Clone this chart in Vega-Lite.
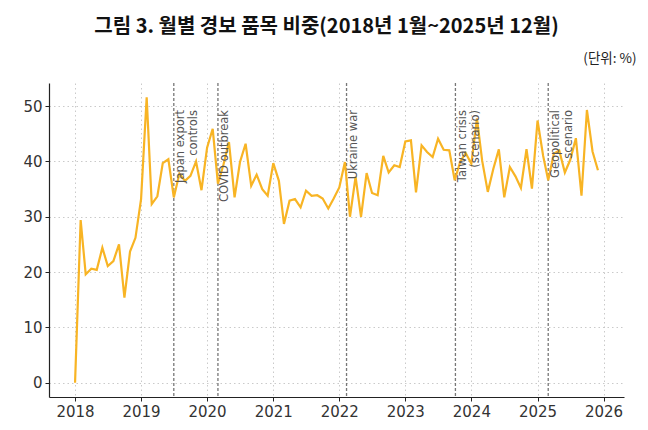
{
  "$schema": "https://vega.github.io/schema/vega-lite/v6.json",
  "autosize": "none",
  "padding": {"left": 49, "top": 83, "right": 24, "bottom": 33},
  "width": 575,
  "height": 314,
  "background": "white",
  "title": {
    "text": "그림 3. 월별 경보 품목 비중(2018년 1월~2025년 12월)",
    "font": "Noto Sans CJK KR",
    "fontSize": 20,
    "fontWeight": "bold",
    "color": "#111",
    "anchor": "middle",
    "frame": "group",
    "baseline": "bottom",
    "dx": -10,
    "offset": -6
  },
  "datasets": {
    "share": [
      {"month": "2018-01-01", "share": 0},
      {"month": "2018-02-01", "share": 29.4},
      {"month": "2018-03-01", "share": 19.6},
      {"month": "2018-04-01", "share": 20.6},
      {"month": "2018-05-01", "share": 20.4},
      {"month": "2018-06-01", "share": 24.4},
      {"month": "2018-07-01", "share": 21.1},
      {"month": "2018-08-01", "share": 22.0},
      {"month": "2018-09-01", "share": 25.0},
      {"month": "2018-10-01", "share": 15.4},
      {"month": "2018-11-01", "share": 23.7},
      {"month": "2018-12-01", "share": 26.2},
      {"month": "2019-01-01", "share": 33.2},
      {"month": "2019-02-01", "share": 51.6},
      {"month": "2019-03-01", "share": 32.3},
      {"month": "2019-04-01", "share": 33.7},
      {"month": "2019-05-01", "share": 39.7},
      {"month": "2019-06-01", "share": 40.4},
      {"month": "2019-07-01", "share": 33.5},
      {"month": "2019-08-01", "share": 37.8},
      {"month": "2019-09-01", "share": 36.5},
      {"month": "2019-10-01", "share": 37.4},
      {"month": "2019-11-01", "share": 40.0},
      {"month": "2019-12-01", "share": 34.8},
      {"month": "2020-01-01", "share": 42.5},
      {"month": "2020-02-01", "share": 45.9},
      {"month": "2020-03-01", "share": 36.0},
      {"month": "2020-04-01", "share": 39.5},
      {"month": "2020-05-01", "share": 43.5},
      {"month": "2020-06-01", "share": 33.5},
      {"month": "2020-07-01", "share": 39.9},
      {"month": "2020-08-01", "share": 43.2},
      {"month": "2020-09-01", "share": 35.6},
      {"month": "2020-10-01", "share": 37.6},
      {"month": "2020-11-01", "share": 35.0},
      {"month": "2020-12-01", "share": 33.8},
      {"month": "2021-01-01", "share": 39.7},
      {"month": "2021-02-01", "share": 36.5},
      {"month": "2021-03-01", "share": 28.7},
      {"month": "2021-04-01", "share": 32.9},
      {"month": "2021-05-01", "share": 33.2},
      {"month": "2021-06-01", "share": 31.7},
      {"month": "2021-07-01", "share": 34.7},
      {"month": "2021-08-01", "share": 33.8},
      {"month": "2021-09-01", "share": 33.9},
      {"month": "2021-10-01", "share": 33.3},
      {"month": "2021-11-01", "share": 31.5},
      {"month": "2021-12-01", "share": 33.3},
      {"month": "2022-01-01", "share": 35.3},
      {"month": "2022-02-01", "share": 39.9},
      {"month": "2022-03-01", "share": 30.0},
      {"month": "2022-04-01", "share": 37.2},
      {"month": "2022-05-01", "share": 30.0},
      {"month": "2022-06-01", "share": 37.9},
      {"month": "2022-07-01", "share": 34.3},
      {"month": "2022-08-01", "share": 33.9},
      {"month": "2022-09-01", "share": 41.0},
      {"month": "2022-10-01", "share": 38.0},
      {"month": "2022-11-01", "share": 39.3},
      {"month": "2022-12-01", "share": 39.0},
      {"month": "2023-01-01", "share": 43.6},
      {"month": "2023-02-01", "share": 43.8},
      {"month": "2023-03-01", "share": 34.4},
      {"month": "2023-04-01", "share": 42.9},
      {"month": "2023-05-01", "share": 41.7},
      {"month": "2023-06-01", "share": 40.8},
      {"month": "2023-07-01", "share": 44.1},
      {"month": "2023-08-01", "share": 42.1},
      {"month": "2023-09-01", "share": 42.0},
      {"month": "2023-10-01", "share": 36.6},
      {"month": "2023-11-01", "share": 40.0},
      {"month": "2023-12-01", "share": 41.5},
      {"month": "2024-01-01", "share": 39.6},
      {"month": "2024-02-01", "share": 47.8},
      {"month": "2024-03-01", "share": 40.1},
      {"month": "2024-04-01", "share": 34.5},
      {"month": "2024-05-01", "share": 38.6},
      {"month": "2024-06-01", "share": 42.2},
      {"month": "2024-07-01", "share": 33.5},
      {"month": "2024-08-01", "share": 39.0},
      {"month": "2024-09-01", "share": 37.3},
      {"month": "2024-10-01", "share": 35.2},
      {"month": "2024-11-01", "share": 42.2},
      {"month": "2024-12-01", "share": 35.1},
      {"month": "2025-01-01", "share": 47.4},
      {"month": "2025-02-01", "share": 41.0},
      {"month": "2025-03-01", "share": 36.6},
      {"month": "2025-04-01", "share": 41.4},
      {"month": "2025-05-01", "share": 42.0},
      {"month": "2025-06-01", "share": 38.0},
      {"month": "2025-07-01", "share": 40.3},
      {"month": "2025-08-01", "share": 44.2},
      {"month": "2025-09-01", "share": 33.8},
      {"month": "2025-10-01", "share": 49.3},
      {"month": "2025-11-01", "share": 41.8},
      {"month": "2025-12-01", "share": 38.4}
    ],
    "events": [
      {"date": "2019-07-01", "label": "Japan export\ncontrols"},
      {"date": "2020-03-01", "label": "COVID outbreak"},
      {"date": "2022-02-10", "label": "Ukraine war"},
      {"date": "2023-10-05", "label": "Taiwan crisis\n(scenario)"},
      {"date": "2025-03-01", "label": "Geopolitical\nscenario"}
    ]
  },
  "layer": [
    {
      "data": {"name": "events"},
      "mark": {"type": "rule", "color": "#777", "strokeWidth": 1.3, "strokeDash": [3, 2]},
      "encoding": {
        "x": {"field": "date", "type": "temporal"}
      }
    },
    {
      "data": {"name": "share"},
      "mark": {"type": "line", "color": "#F8B424", "strokeWidth": 2.2},
      "encoding": {
        "x": {
          "field": "month",
          "type": "temporal",
          "title": null,
          "scale": {
            "type": "utc",
            "domain": [
              {"year": 2017, "month": 8, "date": 10, "utc": true},
              {"year": 2026, "month": 4, "date": 24, "utc": true}
            ]
          },
          "axis": {"format": "%Y", "tickCount": {"interval": "year", "step": 1}}
        },
        "y": {
          "field": "share",
          "type": "quantitative",
          "scale": {"domain": [-2.58, 54.18], "nice": false, "zero": false},
          "axis": {
            "values": [0, 10, 20, 30, 40, 50],
            "title": "(단위: %)",
            "titleAngle": 0,
            "titleX": 587,
            "titleY": -25,
            "titleAlign": "right",
            "titleBaseline": "middle",
            "titleFont": "Noto Sans CJK KR",
            "titleFontSize": 13.5,
            "titleFontWeight": "normal",
            "titleColor": "#222"
          }
        }
      }
    },
    {
      "data": {"name": "events"},
      "mark": {
        "type": "text",
        "angle": 270,
        "align": "right",
        "baseline": "top",
        "dy": 1.5,
        "lineBreak": "\n",
        "lineHeight": 13,
        "font": "DejaVu Sans",
        "fontSize": 11.5,
        "color": "#555"
      },
      "encoding": {
        "x": {"field": "date", "type": "temporal"},
        "y": {"datum": 49.3},
        "text": {"field": "label"}
      }
    }
  ],
  "config": {
    "view": {"stroke": null},
    "axis": {
      "domainColor": "#222",
      "domainWidth": 1.2,
      "tickColor": "#222",
      "tickSize": 4,
      "tickWidth": 1,
      "labelFont": "DejaVu Sans",
      "labelFontSize": 15,
      "labelColor": "#333",
      "labelPadding": 3,
      "gridColor": "#c4c4c4",
      "gridDash": [1.5, 3],
      "gridWidth": 0.9
    }
  }
}
